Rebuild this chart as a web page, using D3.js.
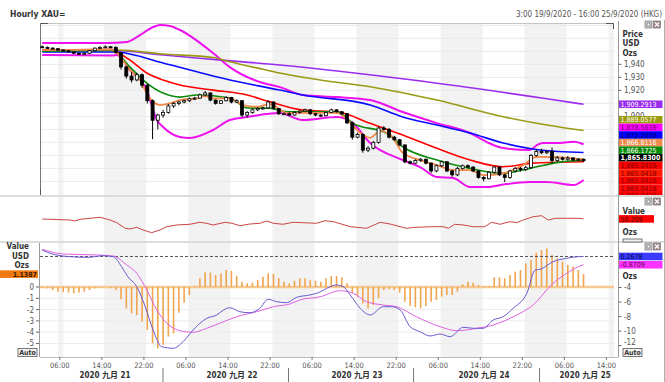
<!DOCTYPE html>
<html><head><meta charset="utf-8">
<script src="https://cdn.jsdelivr.net/npm/d3@7"></script>
<style>
html,body{margin:0;padding:0;background:#fff;}
svg{display:block;}
text{font-family:"DejaVu Sans Condensed","DejaVu Sans",sans-serif;}
</style></head><body>
<svg id="c" width="665" height="382"></svg>
<script>
// ---------------- DATA ----------------
const titleText = "Hourly XAU=";
const rangeText = "3:00 19/9/2020 - 16:00 25/9/2020 (HKG)";

// hourly candles [open, high, low, close]
const candles = [
[1953.5,1954.5,1952.5,1953.0],[1953.0,1953.8,1952.0,1952.5],[1952.5,1953.0,1951.5,1952.0],[1952.0,1952.5,1950.5,1951.0],
[1951.0,1951.5,1950.0,1950.5],[1950.5,1951.0,1949.0,1949.5],[1949.5,1950.0,1948.0,1948.5],[1948.5,1949.0,1947.5,1948.0],
[1948.0,1949.0,1947.5,1948.5],[1948.5,1951.0,1948.0,1950.5],[1950.5,1953.0,1950.0,1952.5],[1952.5,1954.0,1952.0,1953.0],
[1953.0,1954.5,1952.5,1953.5],[1953.5,1954.0,1952.5,1953.0],[1953.0,1954.0,1948.5,1949.0],[1949.0,1949.5,1936.0,1938.0],
[1938.0,1939.0,1929.0,1931.0],[1931.0,1934.0,1926.0,1928.0],[1928.0,1933.5,1927.0,1932.0],[1932.0,1933.0,1922.0,1924.0],
[1924.0,1925.0,1910.0,1912.0],[1912.0,1913.0,1882.5,1897.0],[1897.0,1902.0,1890.0,1901.0],[1901.0,1905.0,1899.0,1903.0],
[1903.0,1909.5,1902.0,1908.0],[1908.0,1911.0,1906.5,1910.0],[1910.0,1912.0,1908.5,1911.0],[1911.0,1913.0,1910.0,1912.0],
[1912.0,1914.5,1911.0,1913.5],[1913.5,1915.0,1912.5,1914.0],[1914.0,1917.5,1913.5,1916.5],[1916.5,1919.5,1915.5,1918.0],
[1918.0,1918.5,1911.5,1912.5],[1912.5,1913.0,1909.0,1910.0],[1910.0,1912.5,1909.5,1912.0],[1912.0,1915.5,1911.5,1914.5],
[1914.5,1915.0,1910.0,1911.0],[1911.0,1913.0,1910.5,1912.0],[1912.0,1912.5,1899.5,1901.0],[1901.0,1904.0,1899.0,1903.0],
[1903.0,1906.0,1902.0,1905.0],[1905.0,1907.0,1904.0,1906.0],[1906.0,1907.5,1905.0,1906.5],[1906.5,1912.5,1906.0,1911.0],
[1911.0,1911.5,1905.0,1906.0],[1906.0,1906.5,1901.0,1902.0],[1902.0,1903.0,1901.0,1902.0],[1902.0,1903.0,1900.0,1901.0],
[1901.0,1904.0,1900.5,1903.0],[1903.0,1905.0,1902.0,1904.0],[1904.0,1906.0,1903.5,1905.0],[1905.0,1905.5,1901.0,1902.0],
[1902.0,1902.5,1900.0,1901.0],[1901.0,1901.5,1899.5,1900.5],[1900.5,1903.5,1900.0,1903.0],[1903.0,1906.0,1902.5,1905.0],
[1905.0,1905.5,1903.0,1903.5],[1903.5,1904.0,1901.0,1902.0],[1902.0,1902.5,1894.0,1895.0],[1895.0,1896.0,1882.0,1884.0],
[1884.0,1887.5,1883.0,1886.0],[1886.0,1887.0,1872.0,1874.0],[1874.0,1877.0,1872.5,1875.5],[1875.5,1881.0,1874.5,1880.0],
[1880.0,1892.0,1879.0,1891.0],[1891.0,1892.5,1889.0,1890.0],[1890.0,1891.0,1883.0,1884.0],[1884.0,1885.0,1881.0,1882.0],
[1882.0,1882.5,1877.0,1878.0],[1878.0,1878.5,1864.0,1865.0],[1865.0,1866.0,1863.0,1864.0],[1864.0,1867.0,1863.5,1866.0],
[1866.0,1868.0,1865.0,1867.0],[1867.0,1867.5,1863.0,1864.0],[1864.0,1864.5,1856.5,1858.0],[1858.0,1863.0,1857.0,1862.0],
[1862.0,1866.0,1861.0,1865.0],[1865.0,1865.5,1857.0,1858.0],[1858.0,1859.0,1853.5,1855.0],[1855.0,1861.0,1854.0,1860.0],
[1860.0,1863.0,1859.0,1862.0],[1862.0,1863.0,1860.0,1861.0],[1861.0,1861.5,1857.0,1858.0],[1858.0,1858.5,1852.0,1853.0],
[1853.0,1854.0,1850.0,1852.0],[1852.0,1858.0,1851.5,1857.0],[1857.0,1862.0,1856.0,1861.0],[1861.0,1861.5,1854.0,1855.0],
[1855.0,1856.0,1849.5,1853.0],[1853.0,1859.0,1852.0,1858.0],[1858.0,1861.0,1857.0,1860.0],[1860.0,1861.0,1857.5,1859.0],
[1859.0,1862.0,1858.0,1860.5],[1860.5,1871.0,1859.5,1870.0],[1870.0,1874.5,1869.0,1873.0],[1873.0,1875.0,1871.0,1872.0],
[1872.0,1874.0,1871.0,1873.0],[1873.0,1876.0,1863.5,1866.0],[1866.0,1869.5,1865.0,1868.0],[1868.0,1869.0,1866.0,1867.0],
[1867.0,1869.5,1866.0,1868.0],[1868.0,1868.5,1865.5,1866.5],[1866.5,1868.0,1865.5,1867.0],[1867.0,1867.5,1865.0,1865.83]
];

// overlay lines: [bar index, price]
const maPurple = [[0,1950.2],[12.9,1950.6],[14.8,1950.4],[23,1947.2],[32.5,1943.8],[45.2,1939.5],[70.5,1927.9],[95.7,1913.7],[103,1909.2913]];
const maOlive  = [[0,1951],[14.2,1951],[23,1947.9],[32.5,1945.2],[35.7,1942],[42,1936.2],[45.2,1933.3],[52.9,1927.9],[62.4,1922.8],[75.1,1912.5],[87.7,1899.7],[96,1893.3],[103,1889.0577]];
const maBlue   = [[0,1949.5],[14.2,1949.5],[14.8,1949.3],[23,1941],[35.7,1927.9],[45.2,1920.2],[49.6,1916.4],[62.4,1908.7],[68.6,1899.5],[75.1,1893.3],[81.4,1887.2],[87.7,1879.5],[94.7,1874.1],[103,1872.203]];
const bbMid    = [[0,1951],[13.3,1951.4],[14.2,1949.5],[16.7,1943.3],[19.9,1933.3],[23,1927.9],[26.2,1924.1],[32.5,1920.2],[39,1916.4],[43.3,1911.2],[49.6,1904.8],[56.1,1903.5],[62.4,1894.6],[68.6,1885.6],[75.1,1875.4],[81.4,1866.4],[87.7,1861.2],[92.8,1863.8],[98.5,1864.8],[103,1865.0418]];
const maGreen  = [[0,1950.2],[13.3,1950.6],[14.2,1948.7],[16.7,1937.9],[19.9,1925.6],[23,1917.9],[26.2,1914.8],[29.4,1916.4],[35.7,1914.1],[39,1906.4],[43.3,1906.2],[46.6,1903.5],[56.1,1903.5],[59.1,1894.6],[65.6,1886.9],[68.6,1876.6],[75.1,1866.4],[81.4,1860],[87.7,1856.2],[92.8,1860],[98.5,1864.8],[103,1866.1725]];
const maOrange = [[0,1951],[13.3,1951.4],[14.2,1948.9],[16.7,1935.6],[18.6,1927.9],[19.9,1917.6],[21.1,1911.2],[22.4,1908.7],[24.3,1910],[26.2,1912.5],[29.4,1913.8],[31,1915.5],[32.5,1913.8],[35.7,1913.8],[38.2,1908.7],[40.9,1907.4],[43.3,1909.4],[46.6,1902.7],[56.1,1902.7],[58.6,1895],[60.5,1887.3],[62.4,1883.5],[64.3,1888.6],[66.2,1886],[68.6,1871.9],[71.9,1866.4],[75.1,1862.5],[78.2,1858.7],[81.4,1858.7],[83.9,1854.8],[87.7,1856.2],[91.5,1862.5],[94.1,1868.9],[97.6,1868.6],[103,1866.8116]];
const bbUpper  = [[0,1956.4],[12.3,1956.4],[16.1,1957.2],[18.6,1962.5],[21.1,1968.7],[22.4,1970.2],[24.3,1969.5],[26.2,1966.4],[32.5,1948.7],[35.7,1937.9],[42,1925.6],[45.2,1922.5],[49.6,1916.4],[56.1,1914.8],[62.4,1912.5],[68.6,1903.3],[75.1,1894.8],[81.4,1887.2],[84.6,1880.2],[87.7,1875.6],[92.8,1874.1],[94.1,1877.9],[95.3,1879.5],[98.5,1879.5],[101.2,1880.5],[103,1878.5639]];
const bbLower  = [[0,1947.2],[13.3,1946.8],[14.2,1947.2],[16.7,1935.6],[19.9,1920.2],[21.8,1897.2],[23,1891.8],[26.2,1884.1],[28.1,1883.3],[32.5,1889.5],[35.7,1897.2],[39,1899.5],[45.2,1902.5],[49.6,1897.2],[56.1,1899.5],[59.1,1894.8],[62.4,1879.5],[68.6,1866.4],[71.9,1861],[75.1,1853.3],[78.2,1852.5],[81.4,1845.6],[84.6,1845.6],[87.7,1847.5],[92.8,1849.5],[96,1849.5],[101.2,1847.2],[103,1851]];

// last values shown on the price scale (top to bottom)
const lastValues = [1909.2913,1889.0577,1878.5639,1872.2030,1866.8116,1866.1725,1865.8300,1865.0418,1865.0418,1865.0418,1865.0418,1865.0418];
const priceTicks = [1850,1860,1870,1880,1890,1900,1910,1920,1930,1940,1950,1960,1970];

// oscillator ("Value") panel
const oscLine = [[0,50],[5.3,47.7],[6.2,45.5],[7.2,49.3],[9.1,51.6],[11,53.9],[12.9,47.7],[14.2,41.6],[15.8,28.9],[16.7,27.3],[18,31.1],[19.2,25],[20.8,18.9],[22.4,25],[23.7,32.5],[25.6,36.4],[28.1,38],[30,42.5],[31.3,40.2],[32.5,36.4],[34.8,42.5],[36.1,40.2],[37.6,34.8],[39.5,38.6],[41.4,40.2],[42.7,45.5],[44,40.2],[45.8,38],[47.7,42.5],[49.6,41.6],[52.2,40.2],[53.8,46.1],[55.4,43.9],[58.6,32.5],[61.7,28.9],[64.3,42.5],[66.2,38.6],[69.3,28.9],[70.9,31.1],[74.4,32.5],[76.3,32.5],[77.3,28.9],[78.5,38],[80.1,36.4],[82,32.5],[84.2,32.5],[85.5,42.5],[87.1,38],[89,43.9],[90.3,41.6],[91.5,47.7],[93.4,55.2],[95,57.5],[96.3,47.7],[97.6,51.6],[99.8,51.6],[102.3,51.6],[103,50.209]];
const oscLast = 50.209;

// MACD panel
const macdLine = [[0,1.16],[1.5,0.70],[5.3,0.24],[8.7,0.15],[11.6,0.37],[13.5,0.24],[15.1,-1.14],[16.3,-2.51],[18,-3.89],[19.6,-6.64],[21.1,-9.85],[22.7,-12.14],[24.9,-12.36],[26.8,-11.46],[28.7,-9.85],[31.3,-8.24],[33.2,-7.78],[34.5,-7.09],[35.7,-6.78],[37.6,-7.33],[39.5,-7.47],[41.4,-6.86],[43,-5.62],[44.6,-5.95],[46.5,-6.09],[48.4,-5.35],[50.9,-5.03],[52.2,-4.80],[56,-3.66],[57.3,-3.89],[58.6,-5.03],[60.5,-6.86],[62.4,-7.78],[64.9,-6.64],[66.5,-6.64],[68.1,-7.09],[70,-9.39],[71.9,-10.08],[73.8,-10.67],[75.7,-10.40],[77.6,-10.77],[80.1,-9.47],[82,-9.61],[83.9,-9.61],[85.8,-8.47],[87.7,-8.02],[89.6,-6.86],[92.2,-4.80],[93.8,-1.59],[94.7,-1.50],[97.2,-0.45],[99.8,0.02],[102,0.24],[103,0.2678]];
const signalLine = [[0,1.25],[4,0.61],[10.4,0.47],[13.5,0.33],[16.1,-0.91],[18,-2.05],[19.9,-4.34],[21.8,-7.09],[23.7,-8.92],[26.2,-9.94],[28.7,-10.16],[31.3,-9.61],[34.5,-8.70],[37,-8.02],[40.8,-7.33],[44,-6.64],[47.1,-6.27],[49,-5.72],[52.9,-5.27],[56.7,-4.44],[59.2,-4.80],[61.7,-5.95],[64.9,-6.41],[67.4,-6.64],[71.2,-8.02],[75.7,-9.39],[78.9,-9.94],[82.7,-9.61],[85.8,-9.16],[89.6,-8.02],[93.4,-6.41],[97.2,-3.42],[99.8,-2.05],[102,-1.14],[103,-0.8709]];
const histogram = [-0.06,-0.12,-0.27,-0.42,-0.46,-0.5,-0.56,-0.5,-0.42,-0.27,-0.12,-0.05,0.02,-0.1,-0.27,-1.09,-1.89,-2.33,-2.48,-3.07,-3.81,-4.98,-5.42,-5.13,-4.39,-4.1,-2.27,-1.38,-0.71,0.1,0.77,1.3,1.27,1.06,1.21,1.5,1.42,1.0,0.47,0.32,0.38,0.62,0.91,1.21,1.15,0.77,0.47,0.32,0.56,0.77,0.77,0.62,0.56,0.47,0.77,0.97,0.97,0.86,0.33,-0.5,-0.86,-1.45,-1.89,-1.59,-1.0,-0.27,-0.2,-0.27,-0.5,-1.3,-1.68,-1.8,-1.89,-1.68,-1.3,-1.15,-0.86,-0.71,-0.71,-0.41,0.24,0.47,0.38,0.18,0.09,0.1,0.86,0.86,0.77,1.06,1.36,1.5,2.09,2.39,3.03,3.27,3.42,2.83,2.54,2.24,1.95,1.8,1.5,1.1387];
const macdLast = 0.2678, signalLast = -0.8709, histLast = 1.1387;
const macdRightTicks = [-4,-6,-8,-10,-12];
const macdLeftTicks = [0,-1,-2,-3,-4,-5];

// time axis
const timeTickIdx = [3.35,11.35,19.35,27.35,35.35,43.35,51.35,59.35,67.35,75.35,83.35,91.35,99.35,107.35];
const timeTickLabels = ["06:00","14:00","22:00","06:00","14:00","22:00","06:00","14:00","22:00","06:00","14:00","22:00","06:00","14:00"];
const shadeBands = [[3.05,4.0],[11.8,19.8],[27.8,35.8],[43.8,51.8],[59.8,67.8],[75.8,83.8],[91.8,99.8],[107.8,109]];
const daySepIdx = [22.98,46.86,70.66,94.63];
const dayLabelIdx = [11.95,36.1,59.9,84.05,103.3];
const dayLabels = ["2020 九月 21","2020 九月 22","2020 九月 23","2020 九月 24","2020 九月 25"];

// ---------------- STYLES ----------------
const lastColors = [
 {bg:"#9a2cf0",fg:"#ffffff"},{bg:"#9a9a0a",fg:"#ffffff"},{bg:"#ff00ff",fg:"#6a006a"},{bg:"#0000ff",fg:"#00005a"},
 {bg:"#f08a4c",fg:"#ffffff"},{bg:"#0a8a0a",fg:"#ffffff"},{bg:"#000000",fg:"#ffffff",bold:true},
 {bg:"#ff0000",fg:"#7a0000"},{bg:"#ff1a00",fg:"#7a0000"},{bg:"#ff0000",fg:"#7a0000"},{bg:"#ff0a0a",fg:"#7a0000"},{bg:"#ff0000",fg:"#7a0000"}
];
const fmtLoc = d3.formatLocale({decimal:".",thousands:",",grouping:[3],currency:["",""],minus:"-"});

const svg = d3.select("#c");
const X0 = 40, X1 = 614, AX = 618.5;
const P = {main:[23,195], osc:[197,241], macd:[243,357]};
const x = d3.scaleLinear().domain([-0.42,108.79]).range([X0,X1]);
const yP = d3.scaleLinear().domain([1839.5,1971.8]).range([P.main[1],P.main[0]]);
const yO = d3.scaleLinear().domain([0,100]).range([P.osc[1],P.osc[0]]);
const yH = d3.scaleLinear().domain([-6.195,3.894]).range([P.macd[1],P.macd[0]]);
const yM = d3.scaleLinear().domain([-13.56,2.121]).range([P.macd[1],P.macd[0]]);
const LH = 7.6, FS = 7;

svg.append("rect").attr("width",665).attr("height",382).attr("fill","#fff");

const defs = svg.append("defs");
Object.entries(P).forEach(([k,[t,b]])=>{
  defs.append("clipPath").attr("id","clip-"+k).append("rect").attr("x",X0).attr("y",t).attr("width",X1-X0).attr("height",b-t);
});
defs.append("clipPath").attr("id","clip-lbl").append("rect").attr("x",AX).attr("y",P.main[0]).attr("width",46).attr("height",P.main[1]-P.main[0]);

// shading bands in each panel
Object.entries(P).forEach(([k,[t,b]])=>{
  const g = svg.append("g").attr("clip-path",`url(#clip-${k})`);
  g.selectAll("rect.band").data(shadeBands).join("rect")
    .attr("x",d=>x(d[0])).attr("width",d=>x(d[1])-x(d[0])).attr("y",t).attr("height",b-t).attr("fill","#f2f2f2");
});
// horizontal grid
svg.append("g").attr("clip-path","url(#clip-main)").selectAll("line").data(priceTicks).join("line")
  .attr("x1",X0).attr("x2",X1).attr("y1",d=>yP(d)).attr("y2",d=>yP(d)).attr("stroke","#e9e9e9");
svg.append("g").attr("clip-path","url(#clip-macd)").selectAll("line").data(macdLeftTicks.filter(d=>d!==0)).join("line")
  .attr("x1",X0).attr("x2",X1).attr("y1",d=>yH(d)).attr("y2",d=>yH(d)).attr("stroke","#ececec");

// panel frames
const frame = svg.append("g");
frame.append("line").attr("x1",X0).attr("x2",X1).attr("y1",P.main[0]+0.5).attr("y2",P.main[0]+0.5).attr("stroke","#c4c4c4");
frame.append("path").attr("d",`M${X0+0.5},${P.main[0]+6}V${P.main[0]+0.5}H${X0+8}`).attr("fill","none").attr("stroke","#555");
frame.append("path").attr("d",`M${X1-8},${P.main[0]+0.5}H${X1-0.5}V${P.main[0]+6}`).attr("fill","none").attr("stroke","#555");
frame.append("line").attr("x1",X0+0.5).attr("x2",X0+0.5).attr("y1",P.main[0]).attr("y2",P.main[1]).attr("stroke","#777");
frame.append("path").attr("d",`M${X0+0.5},${P.main[1]-6}V${P.main[1]+0.5}H${X0+12}`).attr("fill","none").attr("stroke","#555");
[P.main[1]+1,P.osc[1]+1].forEach(yy=>frame.append("line").attr("x1",0).attr("x2",664).attr("y1",yy).attr("y2",yy).attr("stroke","#dcdcdc").attr("stroke-width",2));
frame.append("line").attr("x1",AX).attr("x2",AX).attr("y1",P.main[0]-2).attr("y2",P.macd[1]).attr("stroke","#9a9a9a");
frame.append("line").attr("x1",X0-0.5).attr("x2",X0-0.5).attr("y1",P.macd[0]).attr("y2",P.macd[1]).attr("stroke","#9a9a9a");
frame.append("line").attr("x1",X0).attr("x2",AX).attr("y1",P.macd[1]+0.5).attr("y2",P.macd[1]+0.5).attr("stroke","#bbb");
frame.append("line").attr("x1",664.5).attr("x2",664.5).attr("y1",20).attr("y2",382).attr("stroke","#b0b0b0");

// ---------- main price panel ----------
const gm = svg.append("g").attr("clip-path","url(#clip-main)");
const lineP = d3.line().x(d=>x(d[0])).y(d=>yP(d[1])).curve(d3.curveMonotoneX);
[[bbUpper,"#ee11ee",2],[bbLower,"#ee11ee",2],[maPurple,"#9a2cf0",1.6],[maOlive,"#9a9a14",1.6],[maBlue,"#0a0aff",1.6],
 [bbMid,"#ff0000",1.6],[maGreen,"#0a8a0a",1.6],[maOrange,"#f2894a",1.8]].forEach(([d,c,w])=>{
  gm.append("path").datum(d).attr("d",lineP).attr("fill","none").attr("stroke",c).attr("stroke-width",w);
});
const cg = gm.append("g").selectAll("g").data(candles).join("g");
cg.append("line").attr("x1",(d,i)=>x(i)).attr("x2",(d,i)=>x(i)).attr("y1",d=>yP(d[1])).attr("y2",d=>yP(d[2])).attr("stroke","#000").attr("stroke-width",1);
cg.append("rect").attr("x",(d,i)=>x(i)-1.5).attr("width",3)
  .attr("y",d=>yP(Math.max(d[0],d[3]))).attr("height",d=>Math.max(1,Math.abs(yP(d[0])-yP(d[3]))))
  .attr("fill",d=>d[3]>=d[0]?"#fff":"#000").attr("stroke","#000").attr("stroke-width",0.8);

// stacked last-value label positions
let items = lastValues.map((v,k)=>({v,k,y:yP(v)})).sort((a,b)=>b.v-a.v || a.k-b.k);
for (let j=1;j<items.length;j++) if (items[j].y < items[j-1].y+LH) items[j].y = items[j-1].y+LH;
const limit = P.main[1]+4.6-LH/2;
for (let j=items.length-1;j>=0;j--){ const mx = j===items.length-1?limit:items[j+1].y-LH; if(items[j].y>mx) items[j].y=mx; }

// price axis (tick labels hidden where a value tag sits on them)
const visTicks = priceTicks.filter(d=>yP(d)>P.main[0]+30 && yP(d)<P.main[1]);
const ga = svg.append("g");
ga.selectAll("line").data(visTicks).join("line")
  .attr("x1",AX).attr("x2",AX+3).attr("y1",d=>yP(d)).attr("y2",d=>yP(d)).attr("stroke","#666");
ga.selectAll("text").data(visTicks.filter(d=>!items.some(it=>Math.abs(it.y-yP(d))<3.3))).join("text")
  .attr("x",AX+5.5).attr("y",d=>yP(d)+3).text(d=>fmtLoc.format(",")(d)).style("font-size","8px").attr("fill","#555");
["Price","USD","Ozs"].forEach((t,k)=>ga.append("text").attr("x",AX+4).attr("y",P.main[0]+13.5+k*9.7).text(t)
  .style("font-size","8px").style("font-weight","bold").attr("fill","#333"));

const gl = svg.append("g").attr("clip-path","url(#clip-lbl)");
function tag(g,xl,w,yc,txt,st){
  g.append("rect").attr("x",xl).attr("y",yc-LH/2).attr("width",w).attr("height",LH).attr("fill",st.bg);
  g.append("text").attr("x",xl+1.5).attr("y",yc+2.6).text(txt).attr("fill",st.fg)
   .style("font-size",FS+"px").style("font-weight",st.bold?"bold":"normal");
}
items.forEach(it=>tag(gl,AX+0.5,43.5,it.y,fmtLoc.format(",.4f")(it.v),lastColors[it.k]));

// ---------- oscillator panel ----------
const go = svg.append("g").attr("clip-path","url(#clip-osc)");
go.append("path").datum(oscLine).attr("d",d3.line().x(d=>x(d[0])).y(d=>yO(d[1])))
  .attr("fill","none").attr("stroke","#cc4444").attr("stroke-width",1);
const gor = svg.append("g");
gor.append("text").attr("x",AX+4).attr("y",P.osc[0]+17).text("Value").style("font-size","8px").style("font-weight","bold").attr("fill","#333");
tag(gor,AX+0.5,35,yO(oscLast),fmtLoc.format(".3f")(oscLast),{bg:"#ff0000",fg:"#4a0000"});
gor.append("text").attr("x",AX+4).attr("y",P.osc[0]+37.5).text("Ozs").style("font-size","8px").style("font-weight","bold").attr("fill","#333");

// ---------- MACD panel ----------
const gh = svg.append("g").attr("clip-path","url(#clip-macd)");
gh.append("line").attr("x1",X0).attr("x2",X1).attr("y1",yH(0)).attr("y2",yH(0)).attr("stroke","#f6c994").attr("stroke-width",2.5);
gh.selectAll("rect.h").data(histogram).join("rect")
  .attr("x",(d,i)=>x(i)-0.8).attr("width",1.6)
  .attr("y",d=>Math.min(yH(0),yH(d))).attr("height",d=>Math.abs(yH(d)-yH(0)))
  .attr("fill","#f0a54e");
gh.append("line").attr("x1",X0).attr("x2",AX).attr("y1",yM(macdLast)).attr("y2",yM(macdLast))
  .attr("stroke","#555").attr("stroke-dasharray","3,2");
const lineM = d3.line().x(d=>x(d[0])).y(d=>yM(d[1])).curve(d3.curveMonotoneX);
gh.append("path").datum(signalLine).attr("d",lineM).attr("fill","none").attr("stroke","#e060e0").attr("stroke-width",1);
gh.append("path").datum(macdLine).attr("d",lineM).attr("fill","none").attr("stroke","#6a5ad0").attr("stroke-width",1);

const gmr = svg.append("g");
gmr.selectAll("line").data(macdRightTicks).join("line").attr("x1",AX).attr("x2",AX+3).attr("y1",d=>yM(d)).attr("y2",d=>yM(d)).attr("stroke","#666");
gmr.selectAll("text").data(macdRightTicks).join("text").attr("x",AX+5.5).attr("y",d=>Math.min(yM(d),342.3)+3)
  .text(d=>fmtLoc.format("d")(d)).style("font-size","8px").attr("fill","#555");
tag(gmr,AX+0.5,43.5,yM(macdLast),fmtLoc.format(".4f")(macdLast),{bg:"#3b3bff",fg:"#00003a"});
tag(gmr,AX+0.5,43.5,yM(signalLast),fmtLoc.format(".4f")(signalLast),{bg:"#ff33ff",fg:"#5a005a"});
gmr.append("text").attr("x",AX+4).attr("y",P.macd[0]+36).text("Ozs").style("font-size","8px").style("font-weight","bold").attr("fill","#333");

const gml = svg.append("g");
gml.selectAll("line").data(macdLeftTicks).join("line").attr("x1",X0-4).attr("x2",X0-1).attr("y1",d=>yH(d)).attr("y2",d=>yH(d)).attr("stroke","#666");
gml.selectAll("text").data(macdLeftTicks).join("text").attr("x",X0-6).attr("y",d=>yH(d)+3).attr("text-anchor","end")
  .text(d=>fmtLoc.format("d")(d)).style("font-size","8px").attr("fill","#555");
["Value","USD","Ozs"].forEach((t,k)=>gml.append("text").attr("x",X0-11).attr("y",P.macd[0]+6+k*9.5).attr("text-anchor","end")
  .text(t).style("font-size","8px").style("font-weight","bold").attr("fill","#333"));
gml.append("rect").attr("x",0).attr("y",yH(histLast)-LH/2).attr("width",X0-2).attr("height",LH).attr("fill","#f07a10");
gml.append("text").attr("x",X0-3).attr("y",yH(histLast)+2.6).attr("text-anchor","end").text(fmtLoc.format(".4f")(histLast))
  .style("font-size",FS+"px").style("font-weight","bold").attr("fill","#3a1a00");

// Auto boxes
function autoBox(xl,yt){
  svg.append("rect").attr("x",xl).attr("y",yt).attr("width",19).attr("height",8).attr("fill","#f4f4f4").attr("stroke","#555").attr("stroke-width",0.8);
  svg.append("text").attr("x",xl+9.5).attr("y",yt+6.6).attr("text-anchor","middle").text("Auto").style("font-size","7px").style("font-weight","bold").attr("fill","#333");
}
autoBox(18,348.5); autoBox(AX+4.5,348.5);
svg.append("rect").attr("x",AX+4.5).attr("y",P.osc[1]-2).attr("width",19).attr("height",3).attr("fill","#f4f4f4").attr("stroke","#555").attr("stroke-width",0.8);

// panel icons
function icons(yt){
  svg.append("rect").attr("x",645).attr("y",yt).attr("width",7).attr("height",7).attr("fill","#d0d0d0").attr("stroke","#777").attr("stroke-width",0.7);
  svg.append("rect").attr("x",647).attr("y",yt+2).attr("width",3).attr("height",3).attr("fill","#fff").attr("stroke","#555").attr("stroke-width",0.6);
  svg.append("rect").attr("x",653.5).attr("y",yt).attr("width",7).attr("height",7).attr("fill","#a08888").attr("stroke","#777").attr("stroke-width",0.7);
  svg.append("path").attr("d",`M655,${yt+1.5}L659,${yt+5.5}M659,${yt+1.5}L655,${yt+5.5}`).attr("stroke","#fff").attr("stroke-width",1.1);
}
icons(21); icons(P.osc[0]+1); icons(P.macd[0]);

// ---------- time axis ----------
const gx = svg.append("g");
gx.selectAll("line.t").data(timeTickIdx).join("line").attr("x1",d=>x(d)).attr("x2",d=>x(d)).attr("y1",P.macd[1]).attr("y2",P.macd[1]+3).attr("stroke","#777");
gx.selectAll("text.t").data(timeTickLabels).join("text").attr("x",(d,i)=>x(timeTickIdx[i])).attr("y",P.macd[1]+10.5)
  .attr("text-anchor","middle").text(d=>d).style("font-size","7.5px").attr("fill","#555");
gx.selectAll("line.s").data(daySepIdx).join("line").attr("x1",d=>x(d)).attr("x2",d=>x(d)).attr("y1",P.macd[1]+11).attr("y2",382).attr("stroke","#777");
gx.selectAll("text.d").data(dayLabels).join("text").attr("x",(d,i)=>x(dayLabelIdx[i])).attr("y",P.macd[1]+21)
  .attr("text-anchor","middle").text(d=>d).style("font-size","8px").style("font-weight","bold")
  .style("font-family","'DejaVu Sans Condensed','DejaVu Sans','Noto Sans CJK SC',sans-serif").attr("fill","#333");

// ---------- titles ----------
svg.append("text").attr("x",10).attr("y",17).text(titleText).style("font-size","8.5px").style("font-weight","bold").attr("fill","#333");
svg.append("text").attr("x",662).attr("y",17).attr("text-anchor","end").text(rangeText).style("font-size","8px").attr("fill","#555");
</script>
</body></html>
